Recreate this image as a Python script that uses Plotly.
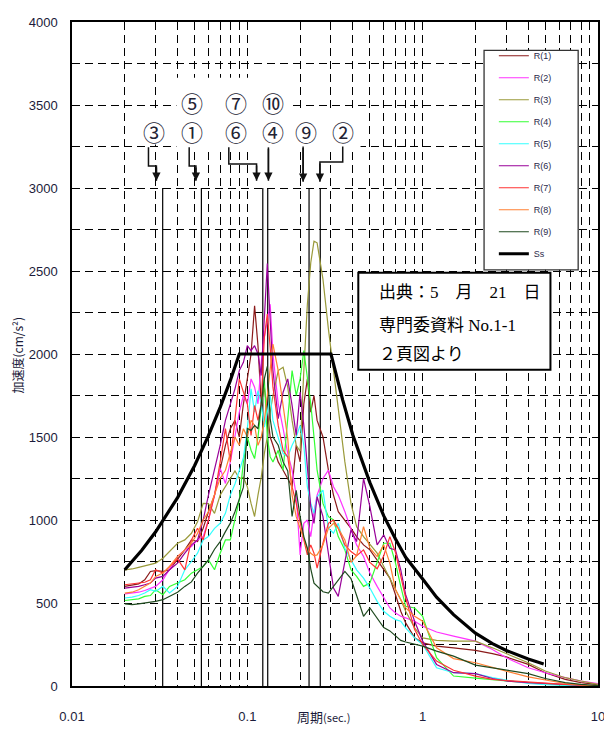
import math
import plotly.graph_objects as go

# ---------------- data ----------------
period = [0.020, 0.022, 0.024, 0.026, 0.028, 0.030, 0.033, 0.036, 0.040, 0.044,
          0.048, 0.052, 0.056, 0.060, 0.065, 0.070, 0.075, 0.080, 0.085, 0.090,
          0.095, 0.100, 0.105, 0.110, 0.115, 0.120, 0.125, 0.130, 0.135, 0.140,
          0.150, 0.160, 0.170, 0.180, 0.190, 0.200, 0.210, 0.220, 0.230, 0.240,
          0.250, 0.270, 0.290, 0.310, 0.330, 0.360, 0.390, 0.420, 0.460, 0.500,
          0.550, 0.600, 0.650, 0.700, 0.750, 0.800, 0.900, 1.000, 1.200, 1.500,
          2.000, 2.500, 3.000, 4.000, 5.000, 6.500, 8.000, 10.00]

r1 = [600, 610, 615, 640, 690, 695, 690, 700, 760, 820,
      880, 870, 950, 1050, 1150, 1300, 1450, 1550, 1600, 1500,
      1700, 1850, 2000, 2290, 2050, 1700, 1800, 1650, 1500, 1450,
      1350, 1300, 1250, 1200, 1450, 1350, 1700, 1850, 1650, 1750,
      1600, 1500, 1300, 1150, 1050, 1000, 950, 900, 850, 820,
      760, 700, 650, 550, 450, 380, 290, 260, 240, 230,
      215, 195, 175, 130, 80, 40, 20, 8]
r2 = [555, 560, 565, 575, 590, 600, 640, 700, 780, 820,
      840, 880, 900, 1000, 1150, 1310, 1220, 1350, 1500, 1650,
      1750, 1700, 1850, 1800, 1700, 1950, 2100, 2200, 2300, 2000,
      1700, 1550, 1400, 1300, 1150, 790, 980, 1000, 900, 1050,
      1150, 1250, 1300, 1200, 1150, 1050, 950, 850, 780, 680,
      600, 530, 470, 440, 420, 410, 390, 360, 325, 300,
      270, 220, 170, 110, 80, 50, 30, 15]
r3 = [700, 705, 715, 725, 730, 740, 770, 810, 860, 880,
      920, 990, 1100, 1099, 1040, 1150, 1198, 1250, 1296, 1250,
      1257, 1200, 1100, 1021, 1150, 1257, 1400, 1500, 1650, 1750,
      1900, 1920, 1800, 1600, 1450, 1414, 1900, 2300, 2550, 2680,
      2670, 2450, 2150, 1900, 1650, 1350, 1100, 960, 900, 850,
      800, 720, 650, 590, 520, 450, 350, 290, 275, 270,
      270, 230, 195, 140, 90, 50, 30, 10]
r4 = [515, 520, 525, 540, 545, 580, 550, 600, 620, 640,
      680, 700, 720, 760, 700, 800, 880, 880, 1000, 1120,
      1350, 1500, 1420, 1370, 1500, 1690, 1850, 1500, 1380, 1350,
      1420, 1300, 1600, 1900, 1750, 1850, 2020, 1870, 1700, 1500,
      1300, 1100, 1020, 1000, 900, 820, 700, 660, 600, 620,
      740, 860, 860, 740, 600, 480, 470, 420, 170, 60,
      47, 40, 30, 20, 12, 5, 2, 0]
r5 = [530, 535, 545, 560, 580, 570, 600, 560, 600, 700,
      750, 800, 880, 900, 950, 980, 1040, 1150, 1217, 1300,
      1375, 1550, 1790, 1650, 1780, 1700, 1560, 1650, 1750, 1600,
      1500, 1400, 1380, 1450, 1500, 1570, 1450, 1200, 1100, 1040,
      1140, 1180, 950, 920, 980, 830, 760, 700, 650, 590,
      510, 450, 420, 400, 390, 350, 290, 250, 110, 80,
      75, 50, 35, 15, 8, 3, 1, 0]
r6 = [590, 595, 600, 610, 620, 650, 660, 700, 740, 800,
      850, 880, 1000, 1150, 1300, 1450, 1600, 1700, 1790, 1900,
      1950, 2050, 2020, 2050, 2000, 1870, 2200, 2545, 2200, 1900,
      1610, 1770, 1850, 1690, 1510, 1770, 1570, 1300, 1080, 980,
      1140, 1020, 785, 590, 540, 745, 940, 870, 1250, 1080,
      850, 910, 830, 820, 700, 550, 390, 270, 130, 80,
      75, 45, 30, 20, 15, 8, 4, 0]
r7 = [610, 615, 620, 625, 640, 700, 680, 720, 765, 700,
      880, 950, 880, 1000, 1150, 1350, 1550, 1350, 1600, 1850,
      1770, 1700, 1510, 1690, 1600, 1700, 2100, 2240, 2040, 1800,
      1570, 1420, 1380, 1200, 1100, 980, 880, 790, 850, 800,
      710, 860, 980, 1000, 950, 850, 810, 785, 820, 745,
      706, 785, 900, 804, 667, 530, 340, 250, 150, 95,
      60, 40, 33, 22, 17, 10, 5, 0]
r8 = [560, 565, 580, 600, 620, 660, 680, 720, 780, 820,
      860, 920, 1000, 1050, 1150, 1250, 1300, 1400, 1500, 1450,
      1550, 1500, 1600, 1570, 1450, 1500, 1600, 1750, 1900, 2060,
      1900, 1700, 1490, 1150, 1020, 950, 880, 824, 800, 785,
      790, 850, 950, 980, 950, 880, 745, 785, 960, 830,
      780, 850, 740, 580, 520, 470, 420, 390, 230, 165,
      140, 110, 90, 55, 35, 15, 6, 0]
r9 = [495, 490, 495, 500, 505, 510, 520, 540, 565, 600,
      627, 680, 720, 760, 824, 870, 930, 981, 1050, 1120,
      1198, 1552, 1540, 1570, 1550, 1700, 1850, 1925, 1610, 1500,
      1450, 1350, 1296, 1021, 1178, 1021, 900, 830, 706, 620,
      600, 568, 560, 600, 640, 690, 647, 549, 420, 470,
      411, 352, 332, 300, 275, 265, 250, 240, 210, 180,
      126, 110, 100, 75, 45, 20, 10, 2]

series_names = ["R(1)", "R(2)", "R(3)", "R(4)", "R(5)", "R(6)", "R(7)", "R(8)", "R(9)"]
series_values = [r1, r2, r3, r4, r5, r6, r7, r8, r9]
series_colors = ["#8B1A1A", "#FF33FF", "#9A9A3A", "#33FF33", "#33FFFF",
                 "#990099", "#FF3333", "#FF8033", "#1F4A1F"]

ss_period = [0.02, 0.025, 0.03, 0.035, 0.04, 0.05, 0.06, 0.07, 0.08, 0.09,
             0.30, 0.35, 0.40, 0.50, 0.60, 0.70, 0.80, 1.0, 1.2, 1.5,
             2.0, 2.5, 3.0, 4.0, 4.9]
ss_value = [700, 818, 929, 1036, 1135, 1327, 1508, 1679, 1841, 2000,
            2000, 1722, 1511, 1225, 1025, 885, 775, 645, 535, 430,
            318, 255, 214, 162, 133]

# natural-period marker lines (circled numbers)
marker_periods = [0.0329, 0.0547, 0.1225, 0.1307, 0.2249, 0.2606]
marker_top = 3000

label_row_low = ["③", "①", "⑥", "④", "⑨", "②"]
label_row_low_period = [0.0292, 0.0485, 0.0859, 0.1392, 0.2165, 0.350]
label_row_high = ["⑤", "⑦", "⑩"]
label_row_high_period = [0.0485, 0.0859, 0.1392]
label_low_value = 3345
label_high_value = 3516

# arrow paths from labels to marker lines: (periods, values)
arrow_paths = [
    ([0.0273, 0.0273, 0.0303, 0.0303], [3245, 3133, 3133, 3044]),
    ([0.0466, 0.0466, 0.0509, 0.0509], [3245, 3133, 3133, 3044]),
    ([0.0784, 0.0784, 0.1129, 0.1129], [3245, 3145, 3145, 3044]),
    ([0.1319, 0.1319], [3245, 3044]),
    ([0.2080, 0.2080], [3250, 3038]),
    ([0.350, 0.350, 0.2594, 0.2594], [3250, 3157, 3157, 3038]),
]

source_lines = ["出典：5\u3000月\u300021\u3000日", "専門委資料 No.1-1", "２頁図より"]

y_ticks = [0, 500, 1000, 1500, 2000, 2500, 3000, 3500, 4000]
x_ticks = [0.01, 0.1, 1, 10]
x_tick_text = ["0.01", "0.1", "1", "10"]
x_minor = [m * d for d in (0.01, 0.1, 1) for m in range(2, 10)]

# ---------------- figure ----------------
fig = go.Figure()
dash = "8px,5px"

for t in marker_periods:
    fig.add_trace(go.Scatter(x=[t, t], y=[0, marker_top], mode="lines",
                             line=dict(color="black", width=1.2),
                             showlegend=False, hoverinfo="skip"))
for px_, py_ in arrow_paths:
    fig.add_trace(go.Scatter(x=px_, y=py_, mode="lines",
                             line=dict(color="#111111", width=1.5),
                             showlegend=False, hoverinfo="skip"))

for name, vals, col in zip(series_names, series_values, series_colors):
    fig.add_trace(go.Scatter(x=period, y=vals, mode="lines", name=name,
                             legendgroup=name,
                             line=dict(color=col, width=1.2)))
fig.add_trace(go.Scatter(x=ss_period, y=ss_value, mode="lines", name="Ss",
                         legendgroup="Ss",
                         line=dict(color="black", width=3.2)))

annotations = []
circ_font = dict(family="Noto Sans CJK JP", size=22, color="#222233")
for txt, t in zip(label_row_low, label_row_low_period):
    annotations.append(dict(x=math.log10(t), y=label_low_value, xref="x", yref="y",
                            text=txt, showarrow=False, font=circ_font))
for txt, t in zip(label_row_high, label_row_high_period):
    annotations.append(dict(x=math.log10(t), y=label_high_value, xref="x", yref="y",
                            text=txt, showarrow=False, font=circ_font))
for px_, py_ in arrow_paths:
    annotations.append(dict(x=math.log10(px_[-1]), y=py_[-1], xref="x", yref="y",
                            ax=math.log10(px_[-1]), ay=py_[-2], axref="x", ayref="y",
                            text="", showarrow=True, arrowhead=2, arrowsize=1.1,
                            arrowwidth=1.5, arrowcolor="#111111"))

src_y = [0.5919, 0.5428, 0.4985]
for line, yy in zip(source_lines, src_y):
    annotations.append(dict(x=0.58, y=yy, xref="paper", yref="paper", xanchor="left",
                            yanchor="middle", text=line, showarrow=False,
                            font=dict(family="Liberation Serif, Noto Sans CJK JP", size=17,
                                      color="black")))

annotations.append(dict(x=0.478, y=-0.046, xref="paper", yref="paper",
                        text='周期<span style="font-size:11px">(sec.)</span>',
                        showarrow=False, xanchor="center", yanchor="middle",
                        font=dict(family="Noto Sans CJK JP", size=13, color="#1b1b3a")))
annotations.append(dict(x=-0.1036, y=0.4985, xref="paper", yref="paper",
                        text="加速度(cm/s²)", textangle=-90, showarrow=False,
                        xanchor="center", yanchor="middle",
                        font=dict(family="Noto Sans CJK JP", size=12, color="#1b1b3a")))

shapes = [
    dict(type="rect", xref="x", yref="y", x0=0.0394, x1=0.4423, y0=3238, y1=3469,
         fillcolor="white", line=dict(width=0), layer="between"),
    dict(type="rect", xref="x", yref="y", x0=0.0394, x1=0.1757, y0=3460, y1=3664,
         fillcolor="white", line=dict(width=0), layer="between"),
    dict(type="rect", xref="x", yref="y", x0=0.0253, x1=0.0341, y0=3262, y1=3481,
         fillcolor="white", line=dict(width=0), layer="between"),
    dict(type="rect", xref="paper", yref="paper", x0=0.7834, x1=0.9623, y0=0.6268, y1=0.9572,
         fillcolor="white", line=dict(color="#333333", width=1.3), layer="above"),
    dict(type="rect", xref="paper", yref="paper", x0=0.5443, x1=0.9096, y0=0.4764, y1=0.6224,
         fillcolor="white", line=dict(color="black", width=2), layer="above"),
]

# page body has an 8px default margin: figure is sized/offset to compensate
fig.update_layout(
    width=604, height=723,
    margin=dict(l=64, r=9, t=7, b=38),
    paper_bgcolor="white", plot_bgcolor="white",
    font=dict(family="Liberation Sans, Noto Sans CJK JP", color="#1b1b3a"),
    showlegend=True,
    legend=dict(x=0.802, y=0.971, xanchor="left", yanchor="top",
                bgcolor="rgba(0,0,0,0)", borderwidth=0, tracegroupgap=3,
                font=dict(family="Liberation Sans", size=9, color="#2a2a4a")),
    annotations=annotations,
    shapes=shapes,
)
fig.update_xaxes(type="log", range=[-2, 1], showline=True, linecolor="black", linewidth=1.5,
                 mirror=True, tickvals=x_ticks, ticktext=x_tick_text, ticks="",
                 tickfont=dict(size=13, color="#1b1b3a"), ticklabelstandoff=18,
                 showgrid=True, gridcolor="black", gridwidth=1.2, griddash=dash,
                 minor=dict(tickvals=x_minor, showgrid=True, gridcolor="black",
                            gridwidth=1.2, griddash=dash, ticks=""),
                 zeroline=False)
fig.update_yaxes(range=[0, 4000], showline=True, linecolor="black", linewidth=1.5,
                 mirror=True, tickvals=y_ticks, ticks="",
                 tickfont=dict(size=13, color="#1b1b3a"), ticklabelstandoff=10,
                 showgrid=True, gridcolor="black", gridwidth=1.2, griddash=dash,
                 minor=dict(dtick=250, showgrid=True, gridcolor="black",
                            gridwidth=1.2, griddash=dash, ticks=""),
                 zeroline=False)

fig.write_html("out.html")
